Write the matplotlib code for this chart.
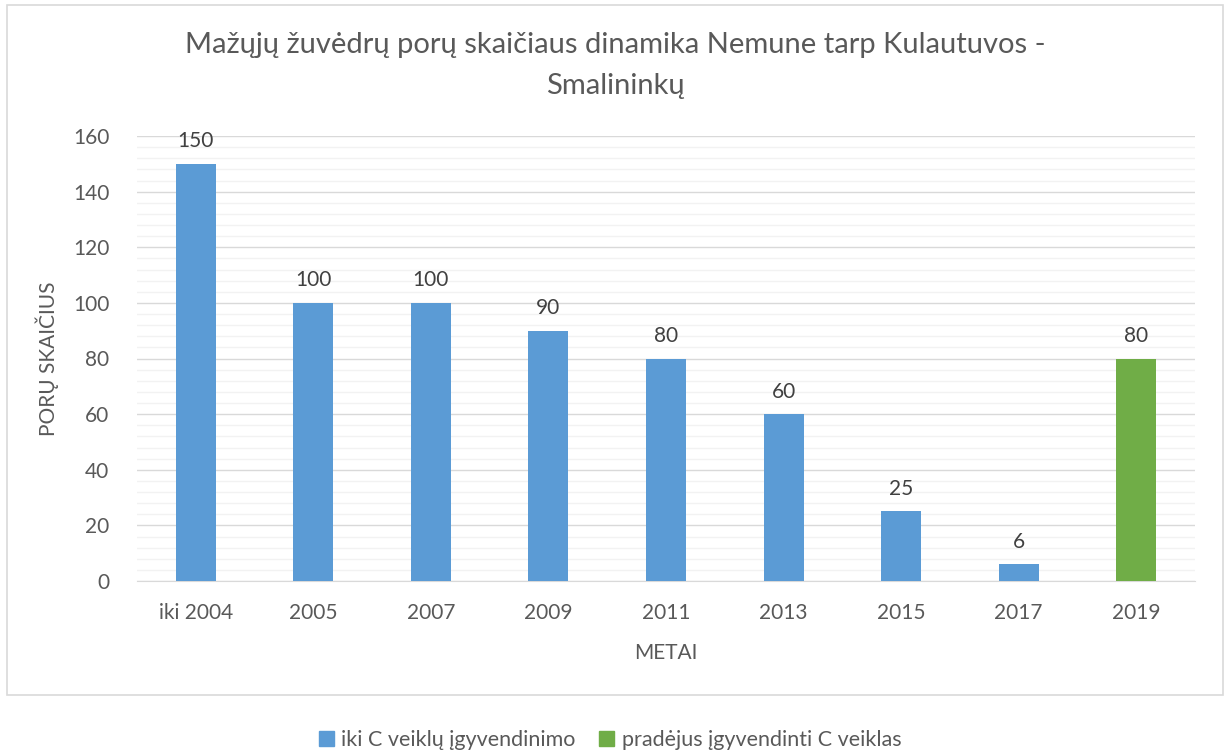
import matplotlib
matplotlib.use("Agg")
import matplotlib.pyplot as plt
from matplotlib.patches import Rectangle
from matplotlib.ticker import MultipleLocator

categories = ["iki 2004", "2005", "2007", "2009", "2011", "2013", "2015", "2017", "2019"]
values = [150, 100, 100, 90, 80, 60, 25, 6, 80]
series_of = [0, 0, 0, 0, 0, 0, 0, 0, 1]
series_names = ["iki C veiklų įgyvendinimo", "pradėjus įgyvendinti C veiklas"]
series_colors = ["#5b9bd5", "#70ad47"]

plt.rcParams['font.family'] = ['Lato', 'DejaVu Sans']
txt = "#595959"

fig = plt.figure(figsize=(12.3, 7.53), dpi=100)
fig.patches.append(Rectangle((7/1230, 1-695/753), 1216/1230, 690/753, transform=fig.transFigure,
                             fill=False, edgecolor="#d9d9d9", linewidth=1.2))
ax = fig.add_axes([137/1230, 1-581/753, 1058/1230, 445/753])

x = list(range(len(categories)))
colors = [series_colors[s] for s in series_of]
bars = ax.bar(x, values, width=0.34, color=colors, zorder=3)
for xi, v in zip(x, values):
    ax.annotate(str(v), (xi, v), xytext=(0, 9), textcoords="offset points",
                ha="center", va="bottom", fontsize=15, color="#404040")

ax.set_xlim(-0.5, len(categories) - 0.5)
ax.set_ylim(0, 160)
ax.yaxis.set_major_locator(MultipleLocator(20))
ax.yaxis.set_minor_locator(MultipleLocator(4))
ax.grid(axis="y", which="major", color="#d9d9d9", linewidth=1, zorder=0)
ax.grid(axis="y", which="minor", color="#f2f2f2", linewidth=1, zorder=0)
ax.set_xticks(x)
ax.set_xticklabels(categories)
ax.tick_params(axis="both", which="both", length=0, labelsize=15, labelcolor=txt)
ax.tick_params(axis="x", pad=16)
ax.tick_params(axis="y", pad=20)
for s in ["top", "right", "left"]:
    ax.spines[s].set_visible(False)
ax.spines["bottom"].set_color("#d9d9d9")
ax.set_axisbelow(True)

ax.set_xlabel("METAI", fontsize=15, color=txt, labelpad=14)
ax.set_ylabel("PORŲ SKAIČIUS", fontsize=15, color=txt, labelpad=10)

fig.text(615/1230, 1-45/753, "Mažųjų žuvėdrų porų skaičiaus dinamika Nemune tarp Kulautuvos -",
         ha="center", va="center", fontsize=21, color=txt)
fig.text(615/1230, 1-86/753, "Smalininkų", ha="center", va="center", fontsize=21, color=txt)

handles = [Rectangle((0, 0), 1, 1, color=c) for c in series_colors]
fig.legend(handles, series_names, loc="center", bbox_to_anchor=(610/1230, 1-740/753), ncol=2,
           frameon=False, fontsize=15.5, handlelength=0.7, handleheight=0.7, handletextpad=0.35,
           columnspacing=1.1, labelcolor=txt)

fig.savefig("out.png", dpi=100)
